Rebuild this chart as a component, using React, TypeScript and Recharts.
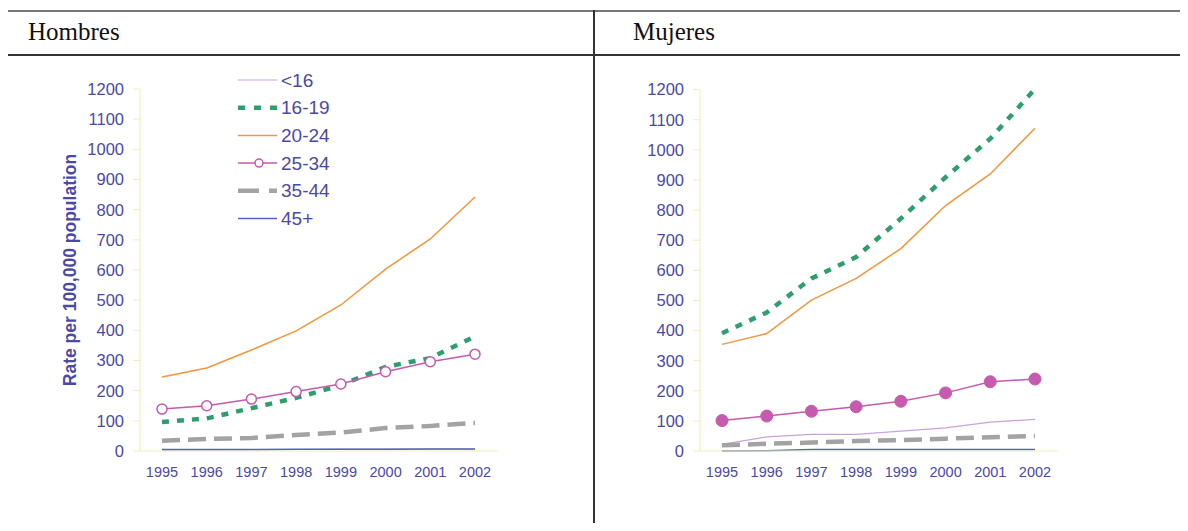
import React from "react";
import { LineChart, Line, XAxis, YAxis } from "recharts";

const years = ["1995", "1996", "1997", "1998", "1999", "2000", "2001", "2002"];
const yTicks = [0, 100, 200, 300, 400, 500, 600, 700, 800, 900, 1000, 1100, 1200];

// Hombres
const menUnder16 = [3, 3, 4, 5, 6, 6, 6, 6];
const men16to19 = [96, 108, 142, 176, 218, 279, 308, 380];
const men20to24 = [245, 275, 335, 398, 484, 603, 703, 842];
const men25to34 = [139, 150, 172, 197, 222, 263, 296, 321];
const men35to44 = [34, 40, 43, 53, 61, 76, 83, 93];
const men45plus = [5, 5, 5, 6, 6, 6, 7, 7];

// Mujeres
const womenUnder16 = [22, 47, 55, 55, 66, 77, 96, 105];
const women16to19 = [391, 460, 573, 644, 772, 909, 1037, 1202];
const women20to24 = [354, 390, 501, 573, 672, 815, 920, 1072];
const women25to34 = [101, 116, 132, 147, 165, 193, 230, 239];
const women35to44 = [19, 24, 28, 33, 36, 41, 46, 50];
const women45plus = [0, 1, 5, 5, 5, 5, 5, 5];

const seriesNames = ["<16", "16-19", "20-24", "25-34", "35-44", "45+"];

const TEXT = "#4a4aa6";
const AXIS = "#f0f0b0";

const styles = [
  { key: "u16", color: "#c9a3df", width: 1.2, dash: undefined },
  { key: "a1619", color: "#2e9e6e", width: 4.5, dash: "7 8" },
  { key: "a2024", color: "#f5953c", width: 1.5, dash: undefined },
  { key: "a2534", color: "#c55aae", width: 1.5, dash: undefined },
  { key: "a3544", color: "#a3a3a3", width: 4.5, dash: "18 8" },
  { key: "a45", color: "#5565b5", width: 1.5, dash: undefined },
];

const build = (cols: number[][]) =>
  years.map((year, i) => {
    const row: Record<string, string | number> = { year };
    styles.forEach((s, j) => {
      row[s.key] = cols[j][i];
    });
    return row;
  });

const menData = build([menUnder16, men16to19, men20to24, men25to34, men35to44, men45plus]);
const womenData = build([womenUnder16, women16to19, women20to24, women25to34, women35to44, women45plus]);

const drawOrder = [0, 5, 4, 2, 1, 3];

function Panel({ data, left, marginLeft, marginRight, filledDots }: any) {
  return (
    <div style={{ position: "absolute", left, top: 0 }}>
      <LineChart
        width={594}
        height={531}
        data={data}
        margin={{ top: 89, right: marginRight, bottom: 50, left: marginLeft }}
      >
        <XAxis
          dataKey="year"
          padding={{ left: 22, right: 22 }}
          axisLine={{ stroke: AXIS }}
          tickLine={false}
          tickSize={6}
          tickMargin={10}
          height={30}
          interval={0}
          tick={{ fontSize: 14.5, fill: TEXT }}
        />
        <YAxis
          domain={[0, 1200]}
          ticks={yTicks}
          interval={0}
          width={80}
          axisLine={{ stroke: AXIS }}
          tickLine={{ stroke: AXIS }}
          tickSize={7}
          tickMargin={9}
          tick={{ fontSize: 16.5, fill: TEXT }}
        />
        {drawOrder.map((j) => {
          const s = styles[j];
          const isMarked = s.key === "a2534";
          const dot = isMarked
            ? filledDots
              ? { r: 6, fill: s.color, stroke: s.color, strokeWidth: 1 }
              : { r: 5, fill: "#ffffff", stroke: s.color, strokeWidth: 1.5 }
            : false;
          return (
            <Line
              key={s.key}
              type="linear"
              dataKey={s.key}
              name={seriesNames[j]}
              stroke={s.color}
              strokeWidth={s.width}
              strokeDasharray={s.dash}
              dot={dot}
              activeDot={false}
              isAnimationActive={false}
            />
          );
        })}
      </LineChart>
    </div>
  );
}

function LegendBox() {
  const rowH = 27.7;
  return (
    <svg
      style={{ position: "absolute", left: 236, top: 68 }}
      width={170}
      height={170}
    >
      {styles.map((s, i) => {
        const y = 12 + i * rowH;
        return (
          <g key={s.key}>
            <line
              x1={2}
              x2={41}
              y1={y}
              y2={y}
              stroke={s.color}
              strokeWidth={s.width}
              strokeDasharray={s.key === "a3544" ? "21 10" : s.key === "a1619" ? "7 9" : undefined}
            />
            {s.key === "a2534" && (
              <circle cx={23} cy={y} r={4} fill="#fff" stroke={s.color} strokeWidth={1.5} />
            )}
            <text x={45} y={y} dominantBaseline="central" fontSize={19} fill={TEXT}>
              {seriesNames[i]}
            </text>
          </g>
        );
      })}
    </svg>
  );
}

export default function App() {
  return (
    <div
      style={{
        position: "relative",
        margin: -8,
        width: 1188,
        height: 531,
        overflow: "hidden",
        background: "#ffffff",
        fontFamily: "'Liberation Sans', Arial, sans-serif",
      }}
    >
      <div style={{ position: "absolute", left: 7, top: 10, width: 1181, height: 2, background: "#777" }} />
      <div style={{ position: "absolute", left: 7, top: 54, width: 1181, height: 1.5, background: "#333" }} />
      <div style={{ position: "absolute", left: 593, top: 10, width: 1.5, height: 521, background: "#333" }} />
      <div
        style={{
          position: "absolute",
          left: 28,
          top: 18,
          fontFamily: "'Liberation Serif', 'Times New Roman', serif",
          fontSize: 25,
          color: "#111",
        }}
      >
        Hombres
      </div>
      <div
        style={{
          position: "absolute",
          left: 633,
          top: 18,
          fontFamily: "'Liberation Serif', 'Times New Roman', serif",
          fontSize: 25,
          color: "#111",
        }}
      >
        Mujeres
      </div>

      <Panel data={menData} left={0} marginLeft={60} marginRight={97} filledDots={false} />
      <Panel data={womenData} left={594} marginLeft={26} marginRight={131} filledDots={true} />

      <LegendBox />

      <div
        style={{
          position: "absolute",
          left: 70,
          top: 270,
          transform: "translate(-50%, -50%) rotate(-90deg)",
          whiteSpace: "nowrap",
          fontSize: 17.5,
          fontWeight: "bold",
          color: TEXT,
        }}
      >
        Rate per 100,000 population
      </div>
    </div>
  );
}
